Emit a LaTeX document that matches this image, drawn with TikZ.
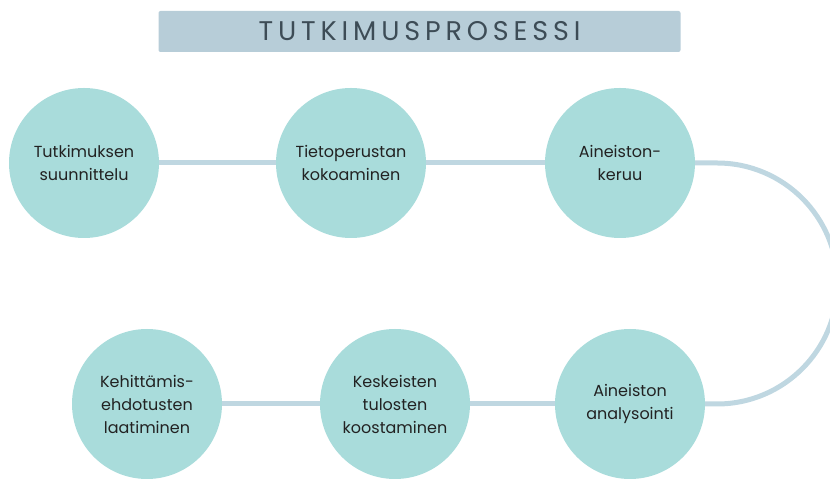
\documentclass[tikz,border=0pt]{standalone}
\usepackage{fontspec}
\setmainfont{Poppins}

\definecolor{ballfill}{HTML}{A9DCDB}
\definecolor{pathblue}{HTML}{BFD7E1}
\definecolor{barfill}{HTML}{B7CDD8}
\definecolor{bartext}{HTML}{3D4C56}
\definecolor{phasetext}{HTML}{222222}

\begin{document}
\begin{tikzpicture}
[
    x=1pt, y=1pt,
    phase/.style={circle, fill=ballfill, minimum size=150pt, inner sep=0pt,
        align=center, text=phasetext, font=\fontsize{16}{23}\selectfont},
    titlebar/.style={fill=barfill, rounded corners=2pt, minimum width=522pt,
        minimum height=41pt, inner sep=0pt, text=bartext,
        font=\fontsize{27}{30}\selectfont},
    pathline/.style={draw=pathblue, line width=5pt},
]
\useasboundingbox (0,0) rectangle (830,481);
\clip (0,0) rectangle (830,481);

\node [titlebar] (title) at (419.5,449.5)
{\addfontfeatures{LetterSpace=18}TUTKIMUSPROSESSI};

% upper row
\node [phase] (suunnittelu) at (84,318) {Tutkimuksen\\suunnittelu};
\node [phase] (tietoperusta) at (351,318) {Tietoperustan\\kokoaminen};
\node [phase] (keruu) at (620,318) {Aineiston-\\keruu};
% lower row
\node [phase] (analysointi) at (630,77) {Aineiston\\analysointi};
\node [phase] (tulokset) at (395,77) {Keskeisten\\tulosten\\koostaminen};
\node [phase] (ehdotukset) at (147,77) {Kehittämis-\\ehdotusten\\laatiminen};

\coordinate (turnA) at (717,318);
\coordinate (turnB) at (717,77);

\draw [pathline] (suunnittelu) -- (tietoperusta);
\draw [pathline] (tietoperusta) -- (keruu);
\draw [pathline] (keruu) -- (turnA)
    arc[start angle=90, end angle=-90, radius=120.5] -- (analysointi);
\draw [pathline] (analysointi) -- (tulokset);
\draw [pathline] (tulokset) -- (ehdotukset);
\end{tikzpicture}
\end{document}
